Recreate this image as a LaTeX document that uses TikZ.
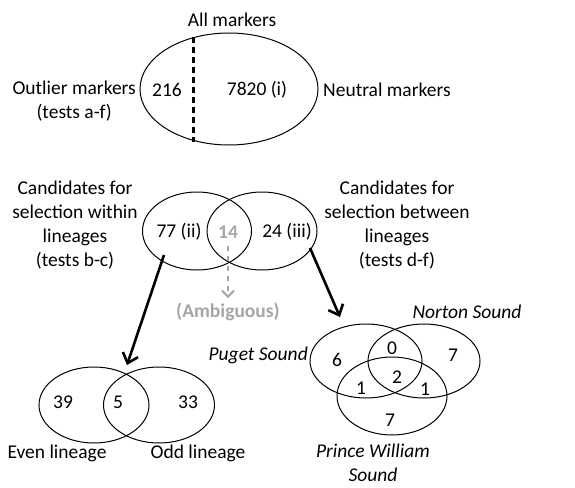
\documentclass[tikz,border=0pt]{standalone}
\usepackage{fontspec}
\setmainfont{Carlito}
\usetikzlibrary{shapes.geometric,arrows.meta}

\tikzset{
  set/.style={draw, ellipse, inner sep=0pt, line width=1pt},
  lbl/.style={align=center, inner sep=0pt},
  bigarrow/.style={line width=2.6pt, -{Straight Barb[length=9pt,width=16pt,line width=2.6pt]}},
  ambarrow/.style={line width=2.4pt, gray!70, dash pattern=on 5pt off 5pt, -{Straight Barb[length=6pt,width=12pt,line width=2pt]}}
}

\begin{document}
\begin{tikzpicture}[x=1pt, y=-1pt, font=\fontsize{19.5}{24}\selectfont]
        \useasboundingbox (0,0) rectangle (575,487);
        % Top set: all markers
        \node[set, minimum width=178, minimum height=112] (All) at (229, 89) {};
        \node[lbl] (AllT) at (232, 20) {All markers};
        \coordinate (CutTop) at (193, 37);
        \coordinate (CutBot) at (193, 142);
        \draw[line width=3pt, dash pattern=on 6pt off 4pt] (CutTop) -- (CutBot);
        \node[lbl] (Out) at (167, 90) {216};
        \node[lbl] (Neu) at (257, 90) {7820 (i)};
        \node[lbl, anchor=east] (OutT) at (136, 101) {Outlier markers\\(tests a-f)};
        \node[lbl, anchor=west] (NeuT) at (323, 90) {Neutral markers};
        % Middle sets: candidates
        \node[set, minimum width=109, minimum height=78] (Within) at (197, 231) {};
        \node[set, minimum width=110, minimum height=78] (Between) at (262, 231) {};
        \node[lbl] (W) at (179, 232) {77 (ii)};
        \node[lbl, gray!70, font=\fontsize{19.5}{24}\selectfont\bfseries] (Amb) at (228, 232) {14};
        \node[lbl] (B) at (287, 232) {24 (iii)};
        \node[lbl] (WT) at (75, 225) {Candidates for\\selection within\\lineages\\(tests b-c)};
        \node[lbl] (BT) at (397, 225) {Candidates for\\selection between\\lineages\\(tests d-f)};
        \node[lbl, gray!70, font=\fontsize{19.5}{24}\selectfont\bfseries] (AmbT) at (228, 312) {(Ambiguous)};
        % Bottom left: lineages
        \node[set, minimum width=110, minimum height=76] (Even) at (94, 405) {};
        \node[set, minimum width=111, minimum height=76] (Odd) at (159, 405) {};
        \node[lbl] (E) at (63, 402) {39};
        \node[lbl] (EO) at (118, 402) {5};
        \node[lbl] (O) at (188, 402) {33};
        \node[lbl] (ET) at (57, 453) {Even lineage};
        \node[lbl] (OT) at (198, 453) {Odd lineage};
        % Bottom right: populations
        \node[set, minimum width=112, minimum height=74] (PS) at (366, 361) {};
        \node[set, minimum width=112, minimum height=74] (NS) at (424, 361) {};
        \node[set, minimum width=110, minimum height=78] (PWS) at (392, 396) {};
        \node[lbl] (P) at (337, 360) {6};
        \node[lbl] (PN) at (392, 348) {0};
        \node[lbl] (N) at (453, 355) {7};
        \node[lbl] (PP) at (361, 388) {1};
        \node[lbl] (PNP) at (397, 377) {2};
        \node[lbl] (NP) at (425, 389) {1};
        \node[lbl] (W2) at (390, 420) {7};
        \node[lbl, anchor=east, font=\fontsize{19.5}{24}\selectfont\itshape] (PST) at (308, 355) {Puget Sound};
        \node[lbl, font=\fontsize{19.5}{24}\selectfont\itshape] (NST) at (467, 312) {Norton Sound};
        \node[lbl, font=\fontsize{19.5}{24}\selectfont\itshape] (PWST) at (373, 463) {Prince William\\Sound};
        % Arrows
        \coordinate (WFrom) at (164, 255);
        \coordinate (WTo) at (127, 365);
        \coordinate (BFrom) at (310, 248);
        \coordinate (BTo) at (340, 317);
        \coordinate (AFrom) at (228, 246);
        \coordinate (ATo) at (228, 298);
        \draw[bigarrow] (WFrom) -- (WTo);
        \draw[bigarrow] (BFrom) -- (BTo);
        \draw[ambarrow] (AFrom) -- (ATo);
\end{tikzpicture}
\end{document}
